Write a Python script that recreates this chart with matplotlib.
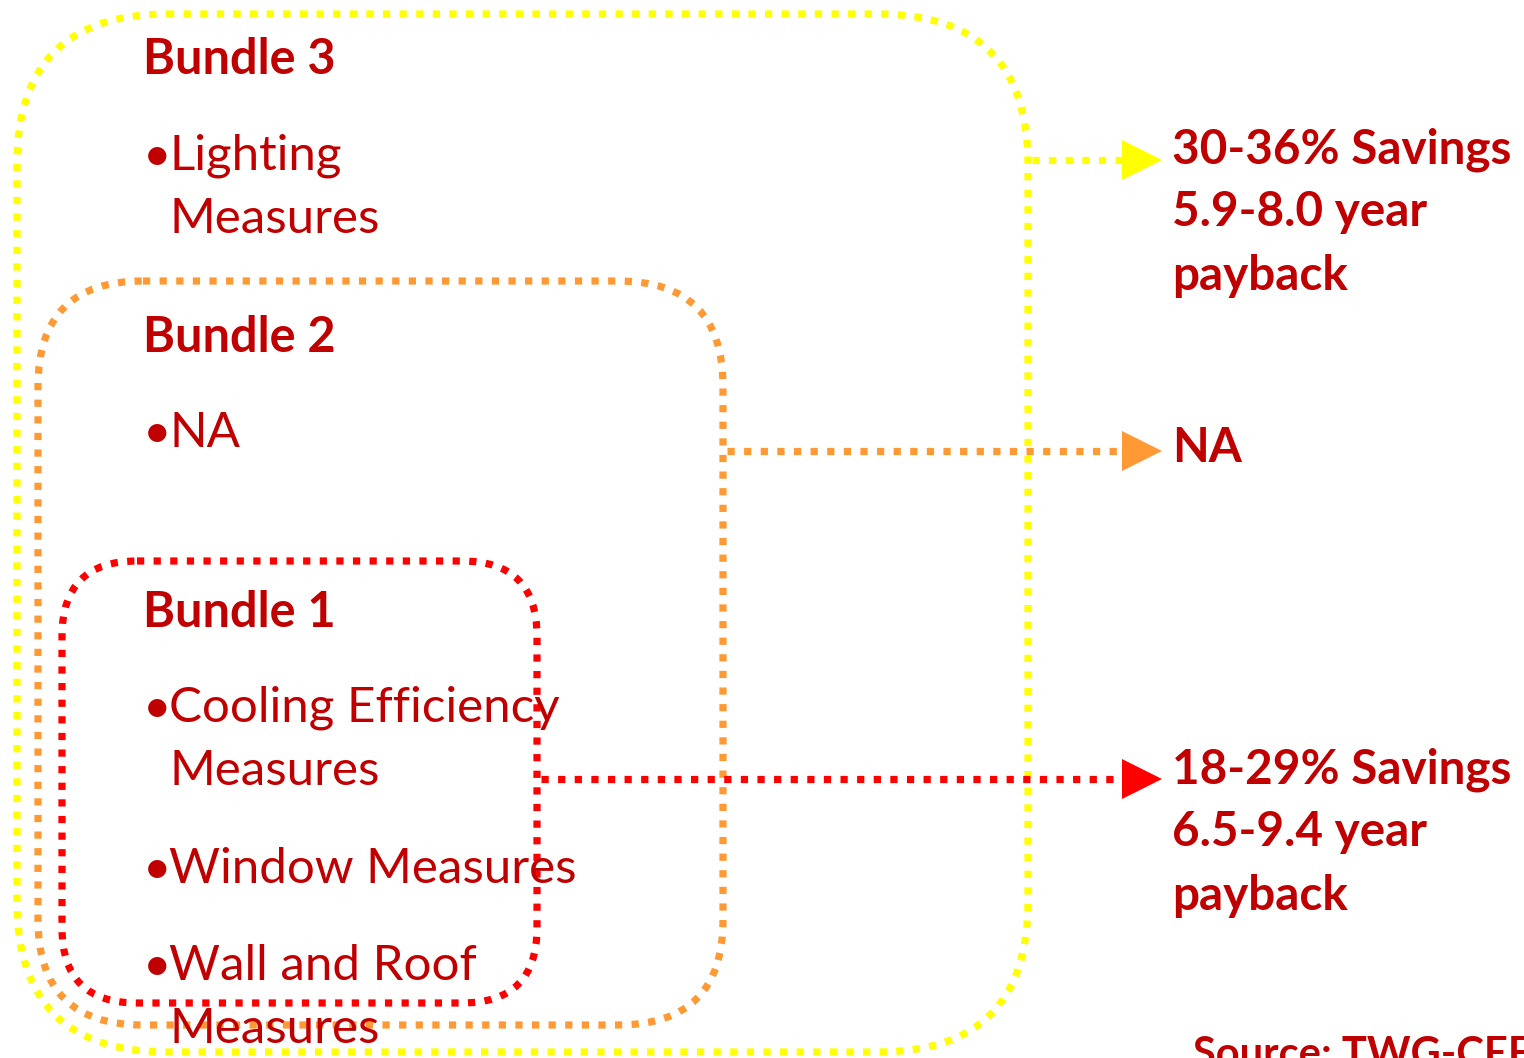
import matplotlib
matplotlib.use("Agg")
import matplotlib.pyplot as plt
from matplotlib.patches import FancyBboxPatch, Polygon

# ---- content ----
bundle_titles = ["Bundle 3", "Bundle 2", "Bundle 1"]
bundle3_items = ["Lighting\nMeasures"]
bundle2_items = ["NA"]
bundle1_items = ["Cooling Efficiency\nMeasures", "Window Measures", "Wall and Roof\nMeasures"]
results = ["30-36% Savings\n5.9-8.0 year\npayback", "NA", "18-29% Savings\n6.5-9.4 year\npayback"]
source_text = "Source: TWG-CEE"

# ---- style / layout (pixel coordinates) ----
W, H = 1524, 1058
TEXT_C = "#C00000"
colors = ["#FFFF00", "#FF9933", "#FF0000"]
# boxes: left, top, right, bottom, corner radius
boxes = [(17, 14, 1028, 1052, 150), (38, 281, 723, 1025, 105), (62, 561, 537, 1003, 75)]
arrow_y = [160, 451, 779]
arrow_start = [1028, 723, 537]
arrow_tip = 1162
head_len, head_half = 40, 20

fig = plt.figure(figsize=(W / 100, H / 100), dpi=100)
ax = fig.add_axes([0, 0, 1, 1])
ax.set_xlim(0, W)
ax.set_ylim(H, 0)
ax.axis("off")

FONT = "Lato"
dots = (0, (1.0, 1.3))
lw = 5.2

for (l, t, r, b, rad), c in zip(boxes, colors):
    p = FancyBboxPatch((l, t), r - l, b - t,
                       boxstyle=f"round,pad=0,rounding_size={rad}",
                       fill=False, edgecolor=c, linewidth=lw, linestyle=dots,
                       capstyle="butt", zorder=2)
    ax.add_patch(p)

for y, x0, c in zip(arrow_y, arrow_start, colors):
    ax.plot([x0 + 4, arrow_tip - head_len], [y, y], color=c, lw=lw,
            linestyle=dots, solid_capstyle="butt", dash_capstyle="butt", zorder=3)
    tri = Polygon([(arrow_tip - head_len, y - head_half), (arrow_tip, y),
                   (arrow_tip - head_len, y + head_half)], closed=True,
                  facecolor=c, edgecolor="none", zorder=4)
    ax.add_patch(tri)

title_fs = 35
res_fs = 34.3
item_fs = 35.5
line_h = 63
res_line_h = 63.5

title_y = [74, 352, 627]
for t, y in zip(bundle_titles, title_y):
    ax.text(143, y, t, color=TEXT_C, fontsize=title_fs, fontweight="bold",
            family=FONT, va="baseline", ha="left", zorder=5)

def bullets(items, y0s):
    for it, y in zip(items, y0s):
        lines = it.split("\n")
        ax.text(143, y, "\u2022", color=TEXT_C, fontsize=item_fs, family=FONT,
                va="baseline", ha="left", zorder=5)
        for k, ln in enumerate(lines):
            ax.text(169, y + k * line_h, ln, color=TEXT_C, fontsize=item_fs,
                    family=FONT, va="baseline", ha="left", zorder=5)

bullets(bundle3_items, [170])
bullets(bundle2_items, [447])
bullets(bundle1_items, [722, 883, 980])

res_y = [163, 462, 783]
for txt, y in zip(results, res_y):
    for k, ln in enumerate(txt.split("\n")):
        ax.text(1172, y + k * res_line_h, ln, color=TEXT_C, fontsize=res_fs,
                fontweight="bold", family=FONT, va="baseline", ha="left", zorder=5)

ax.text(1193, 1067, source_text, color=TEXT_C, fontsize=30, fontweight="bold",
        family=FONT, va="baseline", ha="left", zorder=5)

fig.savefig("out.png", dpi=100)
